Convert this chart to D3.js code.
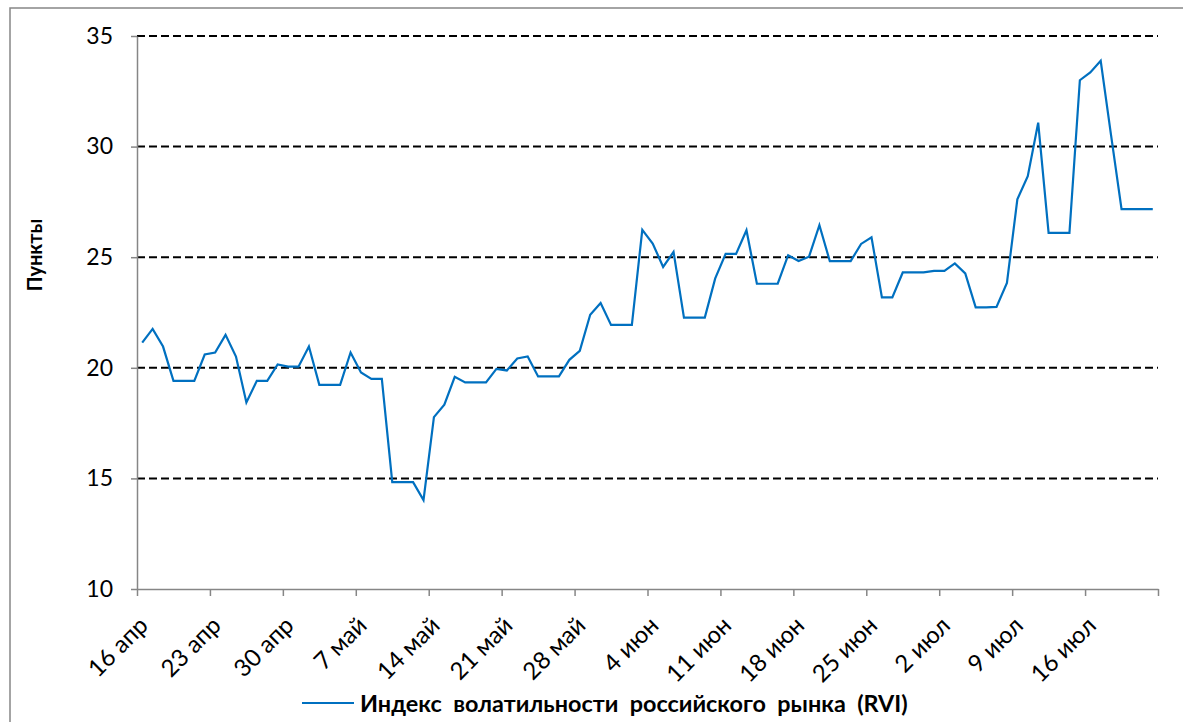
<!DOCTYPE html>
<html><head><meta charset="utf-8">
<script src="https://cdn.jsdelivr.net/npm/d3@7"></script>
<style>
body{margin:0;background:#fff;}
svg{display:block;font-family:Lato,"Open Sans",sans-serif;}
</style>
</head><body>
<svg id="chart" width="1183" height="722"></svg>
<script>
// ---- data ----
const startDate = [2013, 3, 16]; // first calendar day shown (16 апр)
const rvi = [
  21.14, 21.76, 20.96, 19.41, 19.41, 19.41, 20.60, 20.69, 21.49, 20.51,
  18.43, 19.41, 19.41, 20.15, 20.05, 20.05, 20.96, 19.23, 19.23, 19.23,
  20.69, 19.79, 19.50, 19.50, 14.83, 14.83, 14.83, 14.02, 17.77, 18.33,
  19.59, 19.34, 19.34, 19.34, 19.95, 19.88, 20.42, 20.51, 19.61, 19.61,
  19.61, 20.36, 20.77, 22.40, 22.93, 21.94, 21.94, 21.94, 26.24, 25.62,
  24.56, 25.24, 22.27, 22.27, 22.27, 24.04, 25.15, 25.15, 26.22, 23.80,
  23.80, 23.80, 25.09, 24.83, 25.02, 26.45, 24.82, 24.82, 24.82, 25.60,
  25.90, 23.18, 23.18, 24.31, 24.31, 24.31, 24.38, 24.38, 24.72, 24.27,
  22.73, 22.73, 22.75, 23.84, 27.62, 28.66, 31.08, 26.10, 26.10, 26.10,
  33.00, 33.35, 33.88, 30.50, 27.17, 27.17, 27.17, 27.17
];
const yTicks = [10, 15, 20, 25, 30, 35];
const xTickLabels = ["16 апр","23 апр","30 апр","7 май","14 май","21 май","28 май",
  "4 июн","11 июн","18 июн","25 июн","2 июл","9 июл","16 июл",""];
const seriesName = "Индекс  волатильности  российского  рынка  (RVI)";
const yTitle = "Пункты";

// ---- layout ----
const L = 137, R = 1158, T = 36, B = 589;
const blue = "#0070C0", axisGray = "#868686";
const svg = d3.select("#chart");

const d0 = new Date(startDate[0], startDate[1], startDate[2]);
const dates = rvi.map((v, i) => d3.timeHour.offset(d3.timeDay.offset(d0, i), 12));
const dEnd = d3.timeDay.offset(d0, rvi.length);
const x = d3.scaleTime().domain([d0, dEnd]).range([L, R]);
const y = d3.scaleLinear().domain([10, 35]).range([B, T]);

// frame
svg.append("path").attr("d", "M10,730 L10,8 L1190,8")
  .attr("fill", "none").attr("stroke", axisGray).attr("stroke-width", 1.5);

// gridlines
svg.append("g").selectAll("line").data(yTicks.filter(t => t > 10)).join("line")
  .attr("x1", L).attr("x2", R).attr("y1", d => y(d)).attr("y2", d => y(d))
  .attr("stroke", "#000").attr("stroke-width", 2).attr("stroke-dasharray", "8,4");

// y axis
const yAxis = svg.append("g").attr("transform", `translate(${L},0)`)
  .call(d3.axisLeft(y).tickValues(yTicks).tickSize(6).tickSizeOuter(0).tickPadding(18));
yAxis.select(".domain").attr("stroke", axisGray).attr("stroke-width", 1.5);
yAxis.selectAll(".tick line").attr("stroke", axisGray).attr("stroke-width", 1.5);
yAxis.selectAll("text").attr("font-size", 23).attr("fill", "#000")
  .attr("font-family", "Lato, sans-serif");

// x axis
const xTickDates = xTickLabels.map((l, i) => d3.timeDay.offset(d0, i * 7));
const xAxis = svg.append("g").attr("transform", `translate(0,${B})`)
  .call(d3.axisBottom(x).tickValues(xTickDates).tickSize(7).tickSizeOuter(0)
    .tickFormat((d, i) => xTickLabels[i]));
xAxis.select(".domain").attr("stroke", axisGray).attr("stroke-width", 1.5);
xAxis.selectAll(".tick line").attr("stroke", axisGray).attr("stroke-width", 1.5);
xAxis.selectAll("text").attr("font-size", 24).attr("fill", "#000")
  .attr("font-family", "Lato, sans-serif")
  .attr("text-anchor", "end").attr("x", 0).attr("y", 0).attr("dy", 0)
  .attr("transform", "translate(12,38) rotate(-45)");

// series line
svg.append("path").datum(rvi)
  .attr("fill", "none").attr("stroke", blue).attr("stroke-width", 2.2)
  .attr("stroke-linejoin", "miter")
  .attr("d", d3.line().x((d, i) => x(dates[i])).y(d => y(d)));

// y title
svg.append("text").attr("transform", "translate(42,255) rotate(-90)")
  .attr("text-anchor", "middle").attr("font-weight", "bold").attr("font-size", 20)
  .attr("fill", "#000").text(yTitle);

// legend
svg.append("line").attr("x1", 302).attr("x2", 354).attr("y1", 703).attr("y2", 703)
  .attr("stroke", blue).attr("stroke-width", 2.2);
const lt = svg.append("text").attr("x", 360).attr("y", 712)
  .attr("font-weight", "bold").attr("font-size", 23).attr("fill", "#000")
  .style("white-space", "pre").text(seriesName);
const w = lt.node().getComputedTextLength();
lt.attr("font-size", 23 * 548 / w);
</script>
</body></html>
